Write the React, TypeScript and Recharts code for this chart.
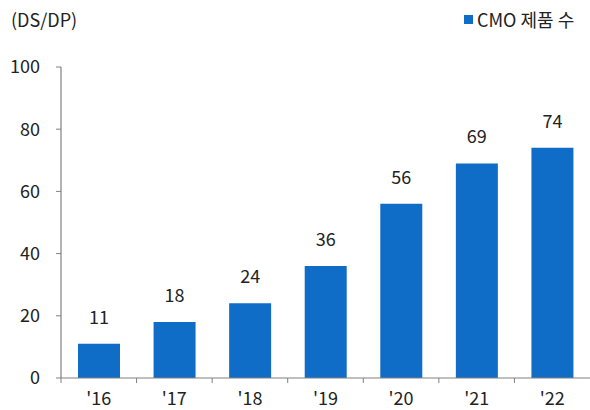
import { Bar, BarChart, LabelList, XAxis, YAxis } from 'recharts'

const categories = ["'16", "'17", "'18", "'19", "'20", "'21", "'22"]
const productCounts = [11, 18, 24, 36, 56, 69, 74]
const yTicks = [0, 20, 40, 60, 80, 100]

const BAR_COLOR = '#0f6cc7'
const TEXT_COLOR = '#222'
const AXIS_COLOR = '#808080'
const FONT = '"Noto Sans CJK KR", "Noto Sans", sans-serif'

const data = categories.map((c, i) => ({ year: c, value: productCounts[i] }))

const W = 590
const H = 410
const LEFT = 61
const X_AXIS_H = 32
const AXIS_Y = H - X_AXIS_H
const BAND = (W - LEFT) / categories.length

function XTick(props: { x?: number; payload?: { value: string } }) {
  const x = props.x ?? 0
  const left = x - BAND / 2
  return (
    <g>
      <line x1={left} x2={left} y1={AXIS_Y} y2={AXIS_Y + 5} stroke={AXIS_COLOR} strokeWidth={1} />
      <text x={x} y={AXIS_Y + 27} textAnchor="middle" fill={TEXT_COLOR} fontSize={18} fontFamily={FONT}>
        {props.payload?.value}
      </text>
    </g>
  )
}

export default function App() {
  return (
    <div style={{ position: 'absolute', left: 0, top: 0, width: W, height: H, background: '#fff', fontFamily: FONT }}>
      <BarChart
        width={W}
        height={H}
        data={data}
        margin={{ top: 67, right: 0, bottom: 0, left: 0 }}
        barSize={42}
      >
        <XAxis
          dataKey="year"
          height={X_AXIS_H}
          tickLine={false}
          axisLine={{ stroke: AXIS_COLOR, strokeWidth: 1.2 }}
          tick={<XTick />}
          interval={0}
        />
        <YAxis
          width={LEFT}
          domain={[0, 100]}
          ticks={yTicks}
          tickSize={5}
          tickMargin={16}
          tickLine={{ stroke: AXIS_COLOR }}
          axisLine={{ stroke: AXIS_COLOR, strokeWidth: 1.2 }}
          tick={{ fill: TEXT_COLOR, fontSize: 18, fontFamily: FONT }}
        />
        <Bar dataKey="value" fill={BAR_COLOR} isAnimationActive={false}>
          <LabelList
            dataKey="value"
            position="top"
            offset={20}
            fill={TEXT_COLOR}
            fontSize={18}
            fontFamily={FONT}
          />
        </Bar>
      </BarChart>
      <div style={{ position: 'absolute', left: 11, top: 6, fontSize: 18, color: TEXT_COLOR }}>(DS/DP)</div>
      <div style={{ position: 'absolute', left: 464, top: 6, fontSize: 18, color: TEXT_COLOR, display: 'flex', alignItems: 'center' }}>
        <span style={{ display: 'inline-block', width: 9, height: 9, background: BAR_COLOR, marginRight: 4 }} />
        <span>CMO 제품 수</span>
      </div>
    </div>
  )
}
